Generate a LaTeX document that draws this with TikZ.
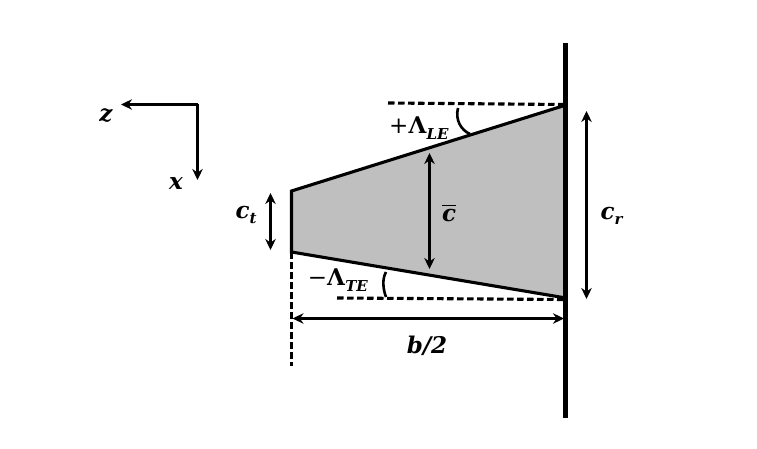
\documentclass[tikz,border=0pt]{standalone}
\usepackage{fontspec}
\setmainfont{DejaVu Serif}
\usepackage{amsmath}
\usetikzlibrary{arrows.meta}
\newcommand{\bi}[1]{\textbf{\textit{#1}}}
\newcommand{\subi}[1]{\raisebox{-0.45ex}{\fontsize{15}{15}\selectfont\bi{#1}}}
\begin{document}
\begin{tikzpicture}[x=1pt,y=-1pt,>={Stealth[length=11pt,width=10.5pt]},
  dim/.style={line width=2.9pt,<->},
  axis/.style={line width=2.9pt,->},
  edge/.style={line width=3.1pt},
  sweep/.style={line width=2.6pt},
  guide/.style={line width=3.1pt,dash pattern=on 6.5pt off 3.5pt},
  lab/.style={font=\fontsize{23}{23}\selectfont,inner sep=0pt}]
  \useasboundingbox (0,0) rectangle (757,449);
  % wing corners
  \coordinate (tipLE) at (291.5,191);
  \coordinate (tipTE) at (291.5,252);
  \coordinate (rootLE) at (566,105);
  \coordinate (rootTE) at (566,298);
  \fill[black!25] (rootLE) -- (tipLE) -- (tipTE) -- (rootTE) -- cycle;
  \draw[edge] (rootTE) -- (tipTE) -- (tipLE) -- (rootLE);
  % root wall
  \coordinate (wallTop) at (565.5,43);
  \coordinate (wallBot) at (565.5,418);
  \draw[line width=4.8pt] (wallTop) -- (wallBot);
  % dashed lines
  \coordinate (dashLE) at (388,103);
  \coordinate (dashLEend) at (563,104.5);
  \coordinate (dashTE) at (337,298);
  \coordinate (dashTEend) at (563,299.5);
  \coordinate (dashTip) at (291.5,366);
  \draw[guide] (dashLE) -- (dashLEend);
  \draw[guide] (dashTE) -- (dashTEend);
  \draw[guide] (tipTE) -- (dashTip);
  % sweep arcs
  \coordinate (arcLEa) at (458,108);
  \coordinate (arcLEb) at (470,134);
  \coordinate (arcTEa) at (386,272);
  \coordinate (arcTEb) at (386,297);
  \draw[sweep] (arcLEa) .. controls (455,120) and (461,130) .. (arcLEb);
  \draw[sweep] (arcTEa) .. controls (382,279) and (383,289) .. (arcTEb);
  % axes
  \coordinate (origin) at (197.5,104.5);
  \coordinate (zEnd) at (121,104.5);
  \coordinate (xEnd) at (197.5,180);
  \draw[axis] (origin) -- (zEnd);
  \draw[axis] (origin) -- (xEnd);
  \node[lab] (zLab) at (106,116) {\bi{z}};
  \node[lab] (xLab) at (176,184) {\bi{x}};
  % dimensions
  \coordinate (ctA) at (270.5,193);
  \coordinate (ctB) at (270.5,250);
  \coordinate (cbarA) at (429.5,153);
  \coordinate (cbarB) at (429.5,269);
  \coordinate (crA) at (586.5,111);
  \coordinate (crB) at (586.5,299);
  \coordinate (bA) at (292.5,318.5);
  \coordinate (bB) at (564,318.5);
  \draw[dim] (ctA) -- (ctB);
  \draw[dim] (cbarA) -- (cbarB);
  \draw[dim] (crA) -- (crB);
  \draw[dim] (bA) -- (bB);
  \node[lab] (ctLab) at (246,215) {\bi{c}\subi{t}};
  \node[lab] (cbarLab) at (449,213) {$\overline{\text{\bi{c}}}$};
  \node[lab] (crLab) at (612,216) {\bi{c}\subi{r}};
  \node[lab] (bLab) at (427,346) {\bi{b/2}};
  \node[lab] (leLab) at (419,128) {+\textbf{Λ}\subi{LE}};
  \node[lab] (teLab) at (338,280) {−\textbf{Λ}\subi{TE}};
\end{tikzpicture}
\end{document}
